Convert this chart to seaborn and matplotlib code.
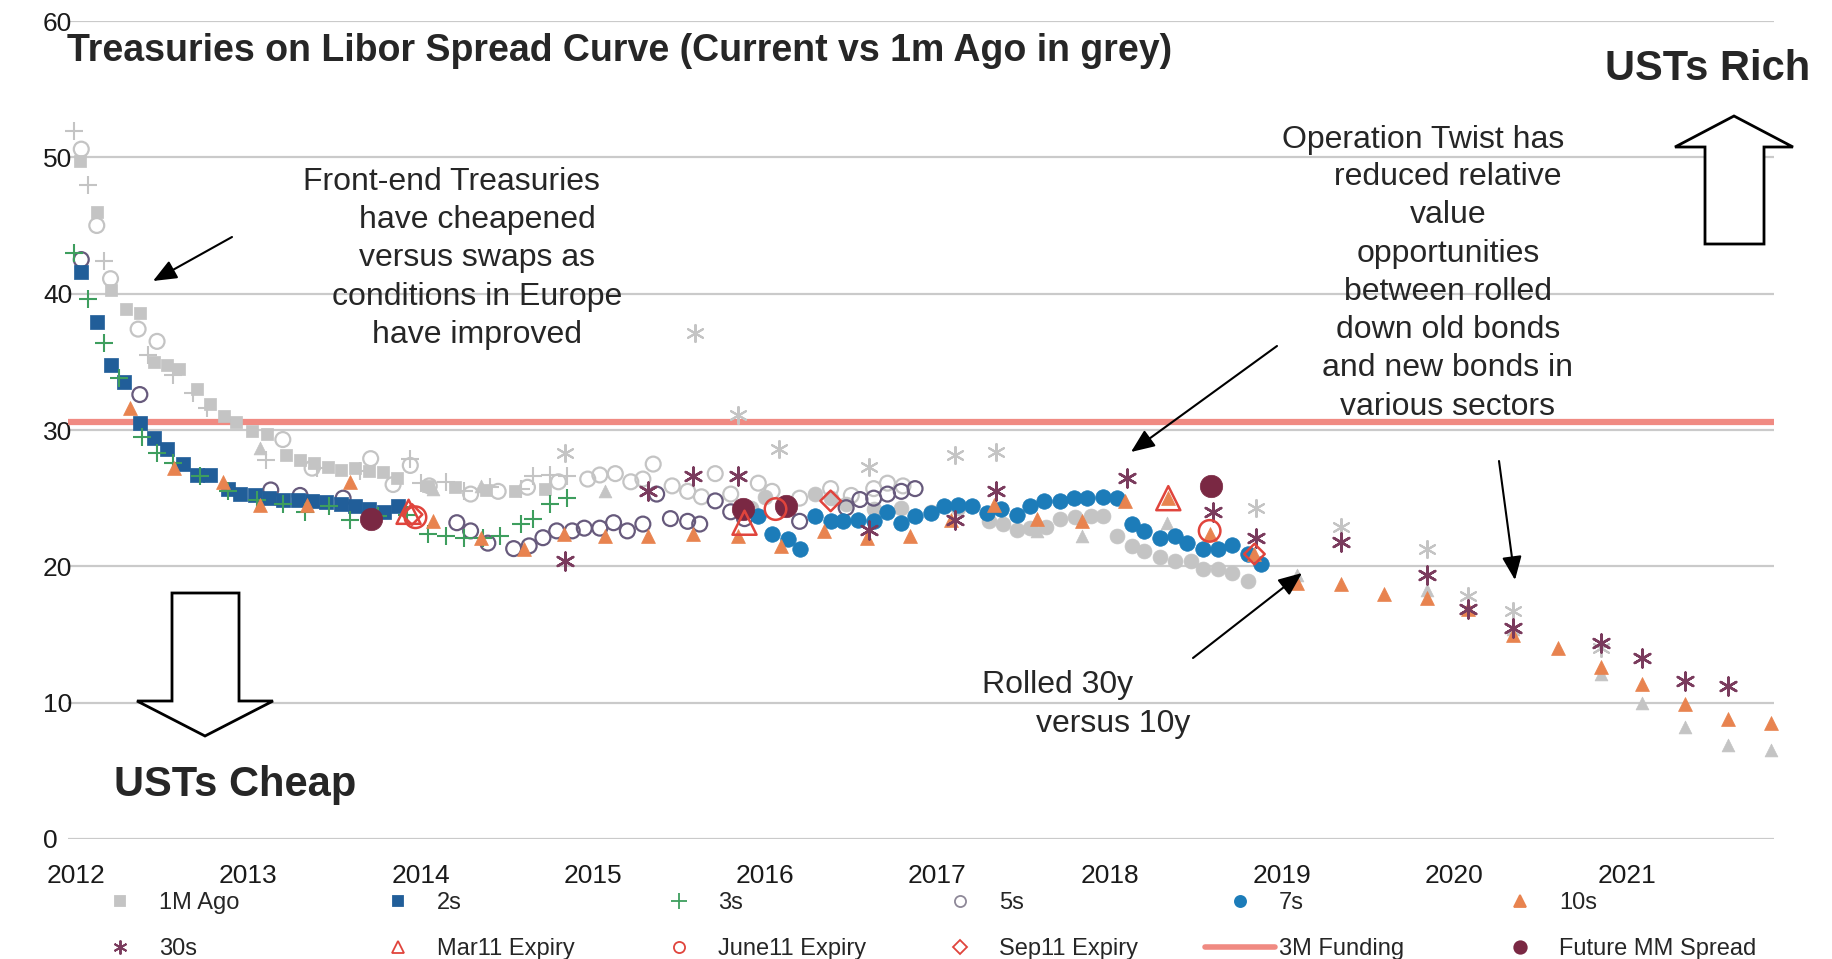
import matplotlib
matplotlib.use("Agg")
import matplotlib.pyplot as plt
from matplotlib.lines import Line2D
from matplotlib.patches import Polygon
import seaborn as sns

W, H = 1832, 959
DPI = 100

# ---------------- data (maturity year, spread in bp) ----------------
year_ticks = [2012, 2013, 2014, 2015, 2016, 2017, 2018, 2019, 2020, 2021]
y_ticks = [0, 10, 20, 30, 40, 50, 60]
funding_3m = 30.6

# 1M ago curves (grey)
g2s_x = [2012.02, 2012.12, 2012.20, 2012.29, 2012.37, 2012.45, 2012.53, 2012.60, 2012.70, 2012.78,
         2012.86, 2012.93, 2013.02, 2013.11, 2013.22, 2013.30, 2013.38, 2013.46, 2013.54, 2013.62,
         2013.70, 2013.78, 2013.86, 2014.04, 2014.20, 2014.38, 2014.55, 2014.72]
g2s_y = [49.7, 46.0, 40.3, 38.9, 38.6, 35.0, 34.8, 34.5, 33.0, 31.9,
         31.0, 30.6, 29.9, 29.7, 28.2, 27.8, 27.6, 27.3, 27.1, 27.2,
         27.0, 26.9, 26.5, 25.9, 25.8, 25.6, 25.5, 25.7]

g3s_x = [2011.99, 2012.07, 2012.16, 2012.42, 2012.56, 2012.68, 2012.76, 2013.10, 2013.40, 2013.65,
         2013.94, 2014.00, 2014.15, 2014.25, 2014.40, 2014.58, 2014.65, 2014.75, 2014.85]
g3s_y = [51.9, 48.0, 42.4, 35.5, 34.0, 32.7, 31.6, 27.8, 27.2, 27.0,
         27.9, 26.1, 26.2, 25.5, 25.8, 25.7, 26.6, 26.7, 26.6]

g5s_x = [2012.03, 2012.12, 2012.20, 2012.36, 2012.47, 2013.20, 2013.37, 2013.71, 2013.84, 2013.94,
         2014.05, 2014.29, 2014.45, 2014.62, 2014.80, 2014.97, 2015.04, 2015.13, 2015.22, 2015.29,
         2015.35, 2015.46, 2015.55, 2015.63, 2015.71, 2015.80, 2015.96, 2016.04, 2016.20, 2016.38,
         2016.50, 2016.63, 2016.71, 2016.80]
g5s_y = [50.6, 45.0, 41.1, 37.4, 36.5, 29.3, 27.2, 27.9, 26.0, 27.4,
         25.9, 25.3, 25.5, 25.8, 26.2, 26.4, 26.7, 26.8, 26.2, 26.4,
         27.5, 25.9, 25.5, 25.1, 26.8, 25.3, 26.1, 25.5, 25.0, 25.7,
         25.2, 25.7, 26.1, 25.9]

g7s_x = [2015.92, 2016.00, 2016.29, 2016.38, 2016.47, 2016.63, 2016.79, 2016.96, 2017.12, 2017.30,
         2017.38, 2017.46, 2017.54, 2017.63, 2017.71, 2017.80, 2017.89, 2017.96, 2018.04, 2018.13,
         2018.20, 2018.29, 2018.38, 2018.47, 2018.54, 2018.63, 2018.71, 2018.80]
g7s_y = [24.3, 25.1, 25.3, 25.0, 24.6, 24.2, 24.3, 24.0, 24.3, 23.3,
         23.1, 22.7, 22.8, 22.9, 23.5, 23.6, 23.7, 23.7, 22.2, 21.5,
         21.1, 20.7, 20.4, 20.4, 19.8, 19.8, 19.5, 18.9]

g10s_x = [2013.07, 2014.07, 2014.35, 2015.07, 2017.58, 2017.84, 2018.33, 2019.09, 2019.84, 2020.34,
          2020.85, 2021.09, 2021.34, 2021.59, 2021.84]
g10s_y = [28.7, 25.7, 25.9, 25.5, 22.6, 22.2, 23.2, 19.4, 18.3, 15.4,
          12.1, 10.0, 8.2, 6.9, 6.5]

g30s_x = [2014.84, 2015.59, 2015.84, 2016.08, 2016.60, 2017.10, 2017.34, 2018.85, 2019.34, 2019.84,
          2020.08, 2020.34, 2020.85]
g30s_y = [28.3, 37.1, 31.1, 28.6, 27.3, 28.2, 28.4, 24.3, 22.9, 21.3,
          17.8, 16.7, 14.0]

# current curves
s2_x = [2012.03, 2012.12, 2012.20, 2012.28, 2012.37, 2012.45, 2012.53, 2012.62, 2012.70, 2012.78,
        2012.88, 2012.95, 2013.04, 2013.12, 2013.20, 2013.29, 2013.37, 2013.45, 2013.54, 2013.62,
        2013.70, 2013.79, 2013.87]
s2_y = [41.6, 37.9, 34.8, 33.5, 30.5, 29.4, 28.6, 27.5, 26.7, 26.7,
        25.7, 25.3, 25.2, 25.0, 24.9, 24.9, 24.8, 24.7, 24.6, 24.4,
        24.2, 24.0, 24.4]

s3_x = [2011.99, 2012.07, 2012.16, 2012.25, 2012.38, 2012.47, 2012.56, 2012.72, 2012.88, 2013.05,
        2013.20, 2013.33, 2013.47, 2013.59, 2013.75, 2013.92, 2014.04, 2014.15, 2014.25, 2014.36,
        2014.46, 2014.58, 2014.65, 2014.75, 2014.85]
s3_y = [43.0, 39.6, 36.4, 33.8, 29.5, 28.3, 27.6, 26.6, 25.5, 24.9,
        24.6, 24.0, 24.4, 23.4, 23.7, 23.8, 22.4, 22.2, 22.1, 22.1,
        22.2, 23.1, 23.5, 24.6, 25.0]

s5_x = [2012.03, 2012.37, 2013.13, 2013.30, 2013.55, 2014.21, 2014.29, 2014.39, 2014.54, 2014.63,
        2014.71, 2014.79, 2014.88, 2014.95, 2015.04, 2015.12, 2015.20, 2015.29, 2015.37, 2015.45,
        2015.55, 2015.62, 2015.71, 2015.80, 2015.88, 2016.20, 2016.47, 2016.55, 2016.63, 2016.71,
        2016.79, 2016.87]
s5_y = [42.5, 32.6, 25.6, 25.2, 25.0, 23.2, 22.6, 21.7, 21.3, 21.5,
        22.1, 22.6, 22.6, 22.8, 22.8, 23.2, 22.6, 23.1, 25.3, 23.5,
        23.3, 23.1, 24.8, 24.0, 23.5, 23.3, 24.3, 24.9, 25.0, 25.3,
        25.5, 25.7]

s7_x = [2015.96, 2016.04, 2016.13, 2016.20, 2016.29, 2016.38, 2016.45, 2016.54, 2016.63, 2016.71,
        2016.79, 2016.87, 2016.96, 2017.04, 2017.12, 2017.20, 2017.29, 2017.37, 2017.46, 2017.54,
        2017.62, 2017.71, 2017.79, 2017.87, 2017.96, 2018.04, 2018.13, 2018.20, 2018.29, 2018.38,
        2018.45, 2018.54, 2018.63, 2018.71, 2018.80, 2018.88]
s7_y = [23.7, 22.4, 22.0, 21.3, 23.7, 23.3, 23.3, 23.4, 23.3, 24.0,
        23.2, 23.7, 23.9, 24.4, 24.5, 24.4, 23.9, 24.2, 23.8, 24.4,
        24.8, 24.8, 25.0, 25.0, 25.1, 25.0, 23.1, 22.6, 22.1, 22.2,
        21.7, 21.3, 21.3, 21.6, 20.9, 20.2]

s10_x = [2012.31, 2012.57, 2012.85, 2013.07, 2013.34, 2013.59, 2014.07, 2014.35, 2014.60, 2014.83,
         2015.07, 2015.32, 2015.58, 2015.84, 2016.09, 2016.34, 2016.59, 2016.84, 2017.08, 2017.33,
         2017.58, 2017.84, 2018.09, 2018.34, 2018.58, 2018.84, 2019.09, 2019.34, 2019.59, 2019.84,
         2020.08, 2020.34, 2020.60, 2020.85, 2021.09, 2021.34, 2021.59, 2021.84]
s10_y = [31.6, 27.2, 26.2, 24.5, 24.5, 26.2, 23.3, 22.1, 21.3, 22.4,
         22.2, 22.2, 22.4, 22.2, 21.5, 22.6, 22.1, 22.2, 23.4, 24.5,
         23.5, 23.3, 24.8, 25.0, 22.4, 20.9, 18.8, 18.7, 18.0, 17.7,
         16.9, 15.0, 14.0, 12.6, 11.4, 9.9, 8.8, 8.5]

s30_x = [2014.84, 2015.32, 2015.58, 2015.84, 2016.60, 2017.10, 2017.34, 2018.10, 2018.60, 2018.85,
         2019.34, 2019.84, 2020.08, 2020.34, 2020.85, 2021.09, 2021.34, 2021.59]
s30_y = [20.4, 25.5, 26.6, 26.6, 22.7, 23.4, 25.5, 26.5, 24.0, 22.1,
         21.8, 19.4, 16.9, 15.5, 14.4, 13.3, 11.6, 11.2]

mar11_x = [2013.93, 2015.88, 2018.34]
mar11_y = [24.0, 23.2, 25.0]
jun11_x = [2013.97, 2016.06, 2018.58]
jun11_y = [23.6, 24.2, 22.6]
sep11_x = [2013.95, 2016.38, 2018.84]
sep11_y = [23.8, 24.8, 20.9]
futmm_x = [2013.71, 2015.87, 2016.12, 2018.59]
futmm_y = [23.5, 24.2, 24.4, 25.9]

# ---------------- styling ----------------
GREY = "#C4C4C4"
C2 = "#215E99"
C3 = "#3E9E5E"
C5 = "#675A7C"
C7 = "#1C7CB9"
C10 = "#E8834F"
C30 = "#7A3B5D"
CRED = "#E0443C"
CFUND = "#F08A82"
CMM = "#7A2843"
ASTER = (6, 2, 0)

sns.set_style("white")
plt.rcParams["font.family"] = ["Liberation Sans", "DejaVu Sans"]

fig = plt.figure(figsize=(W / DPI, H / DPI), dpi=DPI)
ax = fig.add_axes([68 / W, 120 / H, (1774 - 68) / W, (839 - 21) / H])


def fx(px):
    return px / W


def fy(py):
    return 1 - py / H


def filled(xs, ys, marker, color, s, z=3):
    sns.scatterplot(x=xs, y=ys, ax=ax, marker=marker, color=color, edgecolor=color,
                    linewidth=0.5, s=s, legend=False, zorder=z)


def hollow(xs, ys, marker, color, s, lw=1.6, z=3):
    sns.scatterplot(x=xs, y=ys, ax=ax, marker=marker, facecolor="none", edgecolor=color,
                    linewidth=lw, s=s, legend=False, zorder=z)


def lines(xs, ys, marker, color, s, lw=1.5, z=3):
    sns.scatterplot(x=xs, y=ys, ax=ax, marker=marker, color=color,
                    linewidth=lw, s=s, legend=False, zorder=z)


# 3M funding level
ax.axhline(funding_3m, color=CFUND, lw=4.5, zorder=1.5)

# 1M ago (grey)
filled(g2s_x, g2s_y, "s", GREY, 85, z=2)
lines(g3s_x, g3s_y, "+", GREY, 170, z=2)
hollow(g5s_x, g5s_y, "o", GREY, 115, z=2)
filled(g7s_x, g7s_y, "o", GREY, 115, z=2)
filled(g10s_x, g10s_y, "^", GREY, 85, z=2)
lines(g30s_x, g30s_y, ASTER, GREY, 150, z=2)

# current curve
hollow(s5_x, s5_y, "o", C5, 115)
filled(s2_x, s2_y, "s", C2, 90)
lines(s3_x, s3_y, "+", C3, 170)
filled(s7_x, s7_y, "o", C7, 125)
filled(s10_x, s10_y, "^", C10, 100)
lines(s30_x, s30_y, ASTER, C30, 165, lw=1.8)

# contract expiries and money-market spread
filled(futmm_x, futmm_y, "o", CMM, 260, z=4)
hollow(mar11_x, mar11_y, "^", CRED, 300, lw=1.8, z=5)
hollow(jun11_x, jun11_y, "o", CRED, 240, lw=1.8, z=5)
hollow(sep11_x, sep11_y, "D", CRED, 110, lw=1.8, z=5)

for coll in ax.collections:
    coll.set_clip_on(False)

# axes
ax.set_xlim(2011.953, 2021.856)
ax.set_ylim(0, 60)
ax.set_xticks(year_ticks)
ax.set_xticklabels([str(y) for y in year_ticks])
ax.set_yticks(y_ticks)
ax.set_yticklabels([str(v) for v in y_ticks])
ax.grid(axis="y", color="#CACACA", lw=1.6)
ax.grid(axis="x", visible=False)
ax.set_axisbelow(True)
for sp in ax.spines.values():
    sp.set_visible(False)
ax.tick_params(axis="x", length=0, pad=18, labelsize=19, labelcolor="#1a1a1a")
ax.tick_params(axis="y", length=0, pad=18, labelsize=19, labelcolor="#1a1a1a")
plt.setp(ax.get_yticklabels(), ha="left")
ax.set_xlabel("")
ax.set_ylabel("")

# title and labels
fig.text(fx(67), fy(51), "Treasuries on Libor Spread Curve (Current vs 1m Ago in grey)",
         fontsize=27, fontweight="bold", ha="left", va="center")
fig.text(fx(1708), fy(69), "USTs Rich", fontsize=30, fontweight="bold", ha="center", va="center")
fig.text(fx(235), fy(785), "USTs Cheap", fontsize=30, fontweight="bold", ha="center", va="center")

LS = 1.36
fig.text(fx(451), fy(182), "Front-end Treasuries", fontsize=23, ha="center", va="center")
fig.text(fx(477), fy(205),
         "have cheapened\nversus swaps as\nconditions in Europe\nhave improved",
         fontsize=23, ha="center", va="top", multialignment="center", linespacing=LS)
fig.text(fx(1423), fy(140), "Operation Twist has", fontsize=23, ha="center", va="center")
fig.text(fx(1448), fy(162),
         "reduced relative\nvalue\nopportunities\nbetween rolled\n"
         "down old bonds\nand new bonds in\nvarious sectors",
         fontsize=23, ha="center", va="top", multialignment="center", linespacing=LS)
fig.text(fx(1058), fy(685), "Rolled 30y", fontsize=23, ha="center", va="center")
fig.text(fx(1113), fy(724), "versus 10y", fontsize=23, ha="center", va="center")

# pointer arrows
arrows = [((232, 237), (153, 281)), ((1277, 346), (1131, 452)),
          ((1499, 461), (1515, 580)), ((1193, 658), (1302, 573))]
for (x0, y0), (x1, y1) in arrows:
    ax.annotate("", xy=(x1, H - y1), xytext=(x0, H - y0),
                xycoords="figure pixels", textcoords="figure pixels",
                arrowprops=dict(arrowstyle="-|>,head_length=0.6,head_width=0.25",
                                color="black", lw=1.5, mutation_scale=24,
                                shrinkA=0, shrinkB=0))

# block arrows
up = [(1734, 116), (1793, 147), (1764, 147), (1764, 244), (1705, 244), (1705, 147), (1675, 147)]
down = [(205, 736), (273, 701), (239, 701), (239, 593), (172, 593), (172, 701), (137, 701)]
for pts in (up, down):
    fig.patches.append(Polygon([(fx(px), fy(py)) for px, py in pts], closed=True,
                               facecolor="white", edgecolor="black", lw=2,
                               transform=fig.transFigure, figure=fig))

# legend: six columns of two entries
def mk(marker, fc, ec, ms, mew=1.3):
    return Line2D([], [], linestyle="none", marker=marker, markerfacecolor=fc,
                  markeredgecolor=ec, markersize=ms, markeredgewidth=mew)


legend_cols = [
    ([mk("s", GREY, GREY, 7), mk(ASTER, C30, C30, 10, 1.4)], ["1M Ago", "30s"]),
    ([mk("s", C2, C2, 7), mk("^", "none", CRED, 9)], ["2s", "Mar11 Expiry"]),
    ([mk("+", C3, C3, 11), mk("o", "none", CRED, 8)], ["3s", "June11 Expiry"]),
    ([mk("o", "none", "#8E8898", 8), mk("D", "none", CRED, 7)], ["5s", "Sep11 Expiry"]),
    ([mk("o", C7, C7, 8), Line2D([], [], color=CFUND, lw=4)], ["7s", "3M Funding"]),
    ([mk("^", C10, C10, 9), mk("o", CMM, CMM, 9)], ["10s", "Future MM Spread"]),
]
marker_centres = [120, 398, 679, 960, 1240, 1520]
for (handles, labels), xc in zip(legend_cols, marker_centres):
    fig.legend(handles, labels, loc="center left",
               bbox_to_anchor=(fx(xc - 35), fy(926)),
               frameon=False, fontsize=17, handlelength=2.97, handletextpad=0.17,
               labelspacing=1.0, borderpad=0, borderaxespad=0)

fig.savefig("out.png", dpi=DPI)
